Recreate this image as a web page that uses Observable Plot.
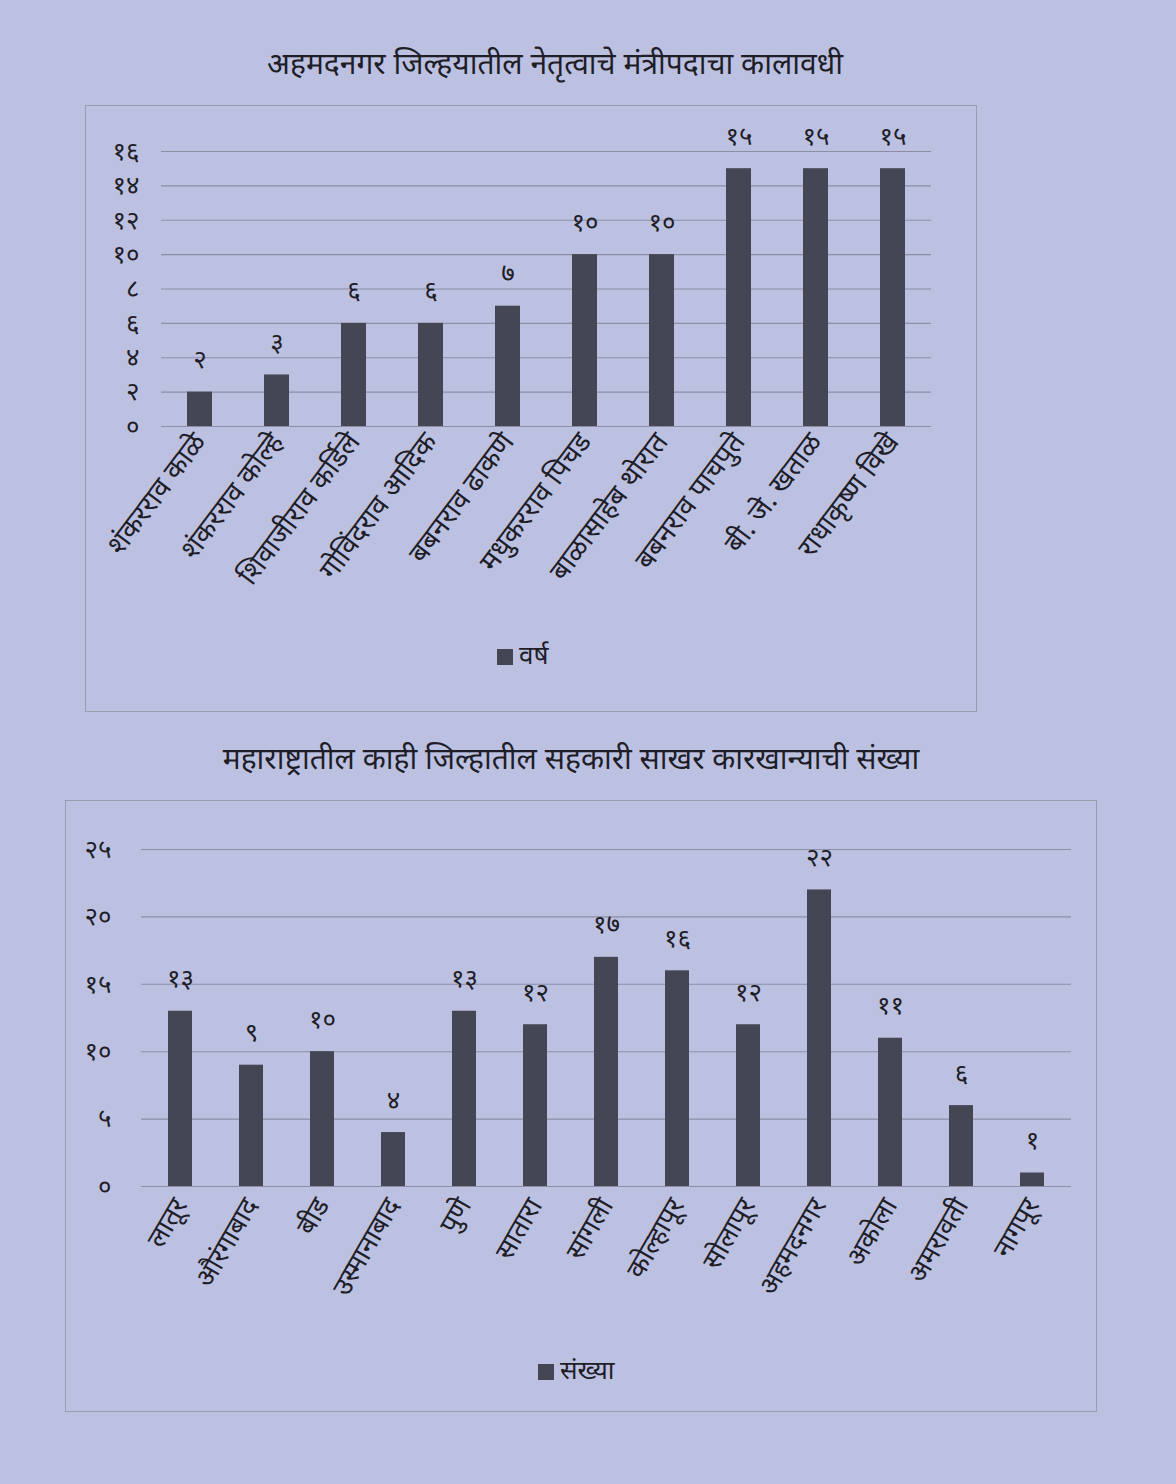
<!DOCTYPE html>
<html><head><meta charset="utf-8">
<script src="https://cdn.jsdelivr.net/npm/d3@7"></script>
<script src="https://cdn.jsdelivr.net/npm/@observablehq/plot@0.6"></script>
<style>
html,body{margin:0;padding:0;}
body{width:1176px;height:1484px;background:#bdc1e1;position:relative;overflow:hidden;font-family:'Noto Sans','Lato',sans-serif;color:#222;}
.title{position:absolute;left:0;width:1176px;text-align:center;font-size:30px;color:#1e1e28;}
.box{position:absolute;border:1px solid #9a9cb4;}
.legend{position:absolute;font-size:26px;color:#1e1e28;white-space:nowrap;}
.legend span.sw{display:inline-block;width:16px;height:16px;background:#444653;margin-right:6px;vertical-align:-1px;}
</style></head>
<body>
<div class="title" id="t1" style="top:42px;left:-33px;">अहमदनगर जिल्हयातील नेतृत्वाचे मंत्रीपदाचा कालावधी</div>
<div class="box" id="b1" style="left:85px;top:105px;width:890px;height:605px;"></div>
<div class="legend" style="left:497px;top:636px;"><span class="sw"></span>वर्ष</div>
<div class="title" id="t2" style="top:737px;left:-17px;">महाराष्ट्रातील काही जिल्हातील सहकारी साखर कारखान्याची संख्या</div>
<div class="box" id="b2" style="left:65px;top:800px;width:1030px;height:610px;"></div>
<div class="legend" style="left:538px;top:1351px;"><span class="sw"></span>संख्या</div>
<script>
const leaders = ["शंकरराव काळे","शंकरराव कोल्हे","शिवाजीराव कर्डिले","गोविंदराव आदिक","बबनराव ढाकणे","मधुकरराव पिचड","बाळासाहेब थोरात","बबनराव पाचपुते","बी. जे. खताळ","राधाकृष्ण विखे"];
const years = [2,3,6,6,7,10,10,15,15,15];
const yTicks1 = [0,2,4,6,8,10,12,14,16];

const districts = ["लातूर","औरंगाबाद","बीड","उस्मानाबाद","पुणे","सातारा","सांगली","कोल्हापूर","सोलापूर","अहमदनगर","अकोला","अमरावती","नागपूर"];
const factories = [13,9,10,4,13,12,17,16,12,22,11,6,1];
const yTicks2 = [0,5,10,15,20,25];

const devDigits = "०१२३४५६७८९";
const dev = n => String(n).replace(/\d/g, d => devDigits[+d]);

const barColor = "#444653";
const gridColor = "#8c8ea6";

function chart(cats, vals, ticks, opts) {
  const data = cats.map((c, i) => ({cat: c, v: vals[i]}));
  return Plot.plot({
    width: opts.width, height: opts.height,
    marginLeft: opts.ml, marginRight: opts.mr, marginTop: opts.mt, marginBottom: opts.mb,
    style: {background: "transparent", fontSize: "24px", fontFamily: "'Noto Sans','Lato',sans-serif", color: "#1e1e28"},
    x: {domain: cats, paddingInner: opts.pad, paddingOuter: opts.pad / 2, label: null},
    y: {domain: [0, ticks[ticks.length - 1]], label: null},
    marks: [
      Plot.gridY(ticks, {stroke: gridColor, strokeOpacity: 1, strokeWidth: 1.1}),
      Plot.barY(data, {x: "cat", y: "v", fill: barColor}),
      Plot.text(data, {x: "cat", y: "v", text: d => dev(d.v), dy: -24, lineAnchor: "bottom", fontSize: 26, fill: "#1e1e28"}),
      Plot.axisY({ticks, tickFormat: dev, tickSize: 0, tickPadding: opts.tp, fontSize: 26, label: null}),
      Plot.axisX({tickSize: 0, tickRotate: opts.rot, tickPadding: opts.xp, fontSize: opts.xfs, label: null})
    ]
  });
}

document.getElementById("b1").appendChild(chart(leaders, years, yTicks1,
  {width: 890, height: 540, ml: 75, mr: 45, mt: 45, mb: 220, pad: 0.67, tp: 22, xfs: 28, rot: -53, xp: 10}));
document.getElementById("b2").appendChild(chart(districts, factories, yTicks2,
  {width: 1030, height: 560, ml: 75, mr: 25, mt: 48, mb: 175, pad: 0.66, tp: 30, xfs: 27, rot: -60, xp: 14}));
</script>
</body></html>
